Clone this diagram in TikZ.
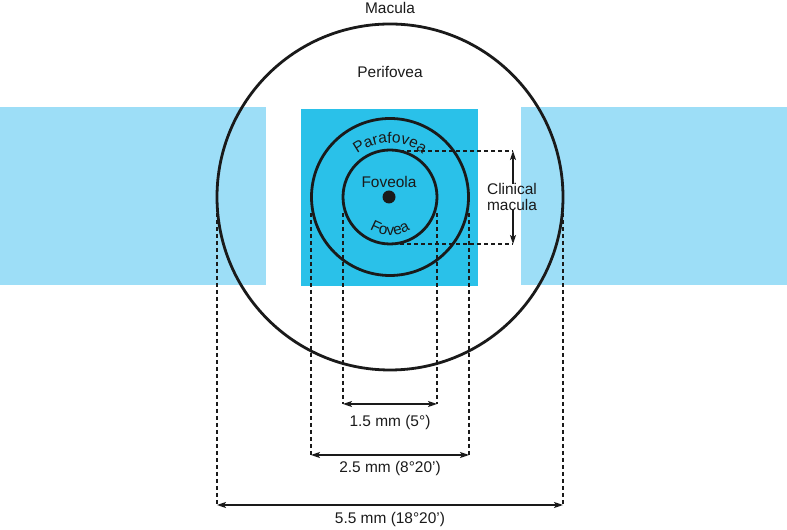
\documentclass[tikz,border=0pt]{standalone}
\usepackage{fontspec}
\setmainfont{Liberation Sans}
\usetikzlibrary{decorations.text,arrows.meta}
\definecolor{lightblue}{HTML}{9DDEF7}
\definecolor{midblue}{HTML}{2AC1E9}
\definecolor{ink}{HTML}{1A1A1A}
\newcommand{\lblfont}{\fontsize{15.5}{18}\selectfont}
\begin{document}
\begin{tikzpicture}[x=1bp,y=1bp,
  font=\lblfont,
  ring/.style={circle,draw=ink,line width=2.8bp,inner sep=0pt,outer sep=0pt},
  dim/.style={draw=ink,line width=2bp,dash pattern=on 4bp off 3bp},
  dimarrow/.style={draw=ink,line width=1.3bp,{Stealth[length=9bp,width=6bp,inset=2bp]}-{Stealth[length=9bp,width=6bp,inset=2bp]}},
  onearrow/.style={draw=ink,line width=1.3bp,-{Stealth[length=9bp,width=6bp,inset=2bp]}},
  lbl/.style={inner sep=0pt,text=ink,align=center}
]
\useasboundingbox (0,0) rectangle (787,530);
% background bands
\fill[lightblue] (0,245) rectangle (266,423);
\fill[lightblue] (521,245) rectangle (787,423);
\fill[midblue] (301,244) rectangle (478,421);
% circles
\node[ring,minimum size=346bp] (macula) at (390,333) {};
\node[ring,minimum size=157bp] (parafovea) at (390,333) {};
\node[ring,minimum size=94bp] (fovea) at (390,333) {};
\node[circle,fill=ink,minimum size=13bp,inner sep=0pt] (dot) at (389,333) {};
% labels
\node[lbl] (tmac) at (390,522) {Macula};
\node[lbl] (tperi) at (390,458) {Perifovea};
\node[lbl] (tfoveola) at (389,348) {Foveola};
\path[decorate,decoration={text along path,text align=center,
  text={|\lblfont\color{ink}|Parafovea}}]
  (390,333) ++(150:54) arc[start angle=150,end angle=30,radius=54];
\path[decorate,decoration={text along path,text align=center,
  text={|\lblfont\color{ink}|Fovea}}]
  (390,333) ++(212:38) arc[start angle=212,end angle=328,radius=38];
% clinical macula
\coordinate (cmt0) at (400,379);
\coordinate (cmt1) at (513,379);
\coordinate (cmb0) at (400,286);
\coordinate (cmb1) at (513,286);
\draw[dim] (cmt0) -- (cmt1);
\draw[dim] (cmb0) -- (cmb1);
\node[lbl,font=\fontsize{15.5}{17}\selectfont] (clin) at (512,333) {Clinical\\macula};
\draw[onearrow] (clin.north -| cmt1) ++(0,-1) coordinate (ca) (ca) -- (cmt1);
\draw[onearrow] (clin.south -| cmb1) ++(0,1) coordinate (cb) (cb) -- (cmb1);
% vertical dashed guides
\foreach \n/\x/\y in {a/217/25,b/311/75,c/343/126,d/437/126,e/469/75,f/563/25}{
  \coordinate (\n0) at (\x,317);
  \coordinate (\n1) at (\x,\y);
  \draw[dim] (\n0) -- (\n1);
}
% dimension arrows
\draw[dimarrow] (c1) -- (d1);
\node[lbl] (l15) at (390,107) {1.5 mm (5°)};
\draw[dimarrow] (b1) -- (e1);
\node[lbl] (l25) at (390,61) {2.5 mm (8°20’)};
\draw[dimarrow] (a1) -- (f1);
\node[lbl] (l55) at (390,10) {5.5 mm (18°20’)};
\end{tikzpicture}
\end{document}
